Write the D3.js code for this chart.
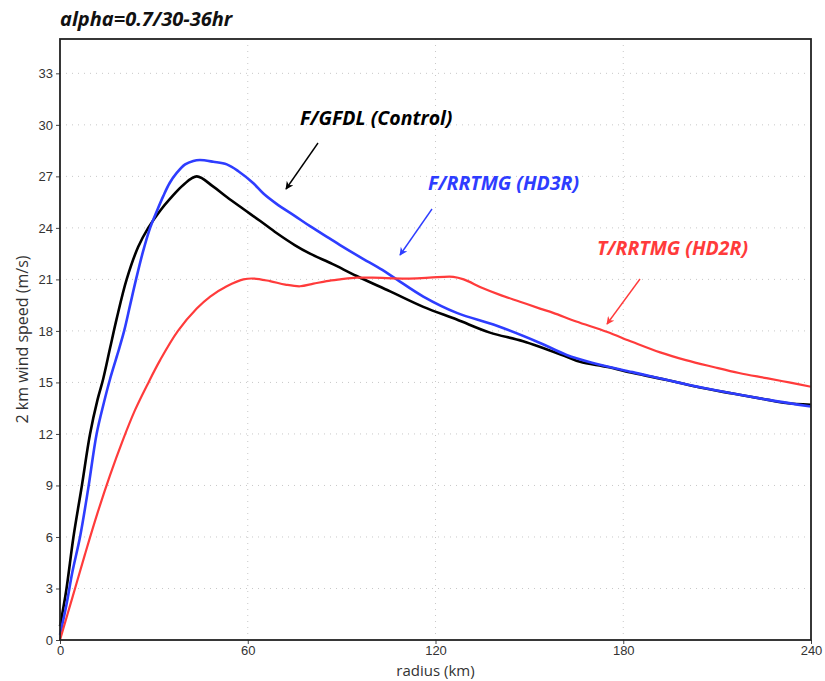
<!DOCTYPE html>
<html>
<head>
<meta charset="utf-8">
<script src="https://cdn.jsdelivr.net/npm/d3@7"></script>
<style>
  body { margin: 0; background: #fff; }
  svg { display: block; }
</style>
</head>
<body>
<svg id="chart" width="825" height="681"></svg>
<script>
// values
const gfdlR = [0,2,4.3,7,9.6,12,13.8,16,18.1,21.3,25,28.2,32,35.2,39.4,43.7,49,53.3,58.6,64,69.2,75,79.9,87,94.8,105.5,116.1,126.8,137.4,148,161.9,166.2,175,183.2,195,204.5,215,225.8,232,240];
const gfdlV = [0.8,2.9,6.0,9.0,12.0,14.0,15.2,17.0,18.7,21.0,22.9,24.0,25.0,25.7,26.5,27.0,26.4,25.8,25.1,24.4,23.7,23.0,22.5,21.9,21.2,20.3,19.4,18.66,17.9,17.4,16.5,16.2,15.9,15.55,15.1,14.7,14.35,14.0,13.8,13.7];

const hd3rR = [0,2,4,6.4,9,11.7,14,16,18.3,20.5,22.4,24.3,26.5,28.8,31,33,35,37.3,40,42.6,44.7,49,53.3,57,61.8,65,69.2,75,79.9,86,89.5,95.9,103,107.6,116.1,126.8,139.6,153.4,161.9,170,183,205,226,240];
const hd3rV = [0.3,2.0,4.0,6.0,8.8,12.0,13.8,15.2,16.6,18.0,19.5,21.0,22.6,24.0,25.0,25.85,26.6,27.2,27.7,27.9,27.95,27.85,27.7,27.3,26.6,26.0,25.4,24.7,24.1,23.4,23.0,22.3,21.55,21.0,20.0,19.05,18.3,17.3,16.6,16.15,15.6,14.7,14.0,13.6];

const hd2rR = [0,4,8,12,16,20,24,28,32,37.7,43.7,48,53.3,58.6,62,67.1,72,76.7,81,85.2,89.5,94.8,100,110.8,118,125.7,129,135,140.6,147,153.4,157.6,165,174.7,183,191.8,200,208.8,217,225.8,233,240];
const hd2rV = [0,2.5,5.0,7.4,9.6,11.6,13.4,14.9,16.3,18.0,19.3,20.0,20.6,21.0,21.05,20.9,20.7,20.6,20.75,20.9,21.0,21.1,21.1,21.05,21.1,21.15,21.0,20.5,20.1,19.7,19.3,19.05,18.55,17.95,17.35,16.75,16.3,15.9,15.55,15.25,15.0,14.75];

const xTicks = [0, 60, 120, 180, 240];
const yTicks = [0, 3, 6, 9, 12, 15, 18, 21, 24, 27, 30, 33];

const series = [
  { name: "F/GFDL (Control)", r: gfdlR, v: gfdlV, color: "#000000", width: 2.6 },
  { name: "F/RRTMG (HD3R)", r: hd3rR, v: hd3rV, color: "#2e3dff", width: 2.6 },
  { name: "T/RRTMG (HD2R)", r: hd2rR, v: hd2rV, color: "#ff3b3b", width: 2.2 }
];

const margin = { left: 60, top: 39, right: 14, bottom: 41 };
const width = 825, height = 681;

const svg = d3.select("#chart");

const x = d3.scaleLinear().domain([0, 240]).range([margin.left, width - margin.right]);
const y = d3.scaleLinear().domain([0, 35]).range([height - margin.bottom, margin.top]);

// grid
svg.append("g")
  .selectAll("line")
  .data(yTicks.filter(d => d > 0))
  .enter()
  .append("line")
  .attr("x1", x(0)).attr("x2", x(240))
  .attr("y1", d => y(d)).attr("y2", d => y(d))
  .style("stroke", "#c8c8c8")
  .style("stroke-width", 1)
  .style("stroke-dasharray", "1,5");

svg.append("g")
  .selectAll("line")
  .data(xTicks.filter(d => d > 0 && d < 240))
  .enter()
  .append("line")
  .attr("x1", d => x(d)).attr("x2", d => x(d))
  .attr("y1", y(0)).attr("y2", y(35))
  .style("stroke", "#c8c8c8")
  .style("stroke-width", 1)
  .style("stroke-dasharray", "1,5");

// axes
const xAxis = svg.append("g")
  .attr("transform", "translate(0," + y(0) + ")")
  .call(d3.axisBottom(x).tickValues(xTicks).tickSize(4).tickPadding(2));
const yAxis = svg.append("g")
  .attr("transform", "translate(" + x(0) + ",0)")
  .call(d3.axisLeft(y).tickValues(yTicks).tickSize(4).tickPadding(3));

[xAxis, yAxis].forEach(function(a) {
  a.select(".domain").remove();
  a.selectAll("text")
    .style("font-family", "'Liberation Sans', Arial, sans-serif")
    .style("font-size", "13px")
    .style("fill", "#333");
  a.selectAll("line").style("stroke", "#444");
});

// curves
const line = d3.line()
  .x(d => x(d[0]))
  .y(d => y(d[1]))
  .curve(d3.curveCatmullRom.alpha(0.5));

svg.append("g")
  .selectAll("path")
  .data(series)
  .enter()
  .append("path")
  .attr("d", function(d) {
    return line(d.r.map((r, i) => [r, d.v[i]]));
  })
  .style("fill", "none")
  .style("stroke", d => d.color)
  .style("stroke-width", d => d.width)
  .style("stroke-linejoin", "round");

// frame
svg.append("rect")
  .attr("x", x(0)).attr("y", y(35))
  .attr("width", x(240) - x(0))
  .attr("height", y(0) - y(35))
  .style("fill", "none")
  .style("stroke", "#222")
  .style("stroke-width", 1.8);

// annotations
const notes = [
  { text: series[0].name, color: series[0].color, tx: 300, ty: 125, ax1: 318, ay1: 143, ax2: 286, ay2: 189 },
  { text: series[1].name, color: series[1].color, tx: 428, ty: 190, ax1: 432, ay1: 209, ax2: 400, ay2: 255 },
  { text: series[2].name, color: series[2].color, tx: 597, ty: 255, ax1: 640, ay1: 279, ax2: 607, ay2: 324 }
];

const defs = svg.append("defs");
notes.forEach(function(n, i) {
  defs.append("marker")
    .attr("id", "head" + i)
    .attr("viewBox", "0 0 10 10")
    .attr("refX", 9).attr("refY", 5)
    .attr("markerWidth", 8).attr("markerHeight", 8)
    .attr("markerUnits", "userSpaceOnUse")
    .attr("orient", "auto")
    .append("path")
    .attr("d", "M0,0 L10,5 L0,10 L3,5 Z")
    .style("fill", n.color);

  svg.append("text")
    .attr("x", n.tx).attr("y", n.ty)
    .text(n.text)
    .style("font-family", "'Open Sans', sans-serif")
    .style("font-weight", "bold")
    .style("font-style", "italic")
    .style("font-size", "19.5px")
    .style("fill", n.color);

  svg.append("line")
    .attr("x1", n.ax1).attr("y1", n.ay1)
    .attr("x2", n.ax2).attr("y2", n.ay2)
    .style("stroke", n.color)
    .style("stroke-width", 1.4)
    .attr("marker-end", "url(#head" + i + ")");
});

// title and axis labels
svg.append("text")
  .attr("x", 60).attr("y", 26)
  .text("alpha=0.7/30-36hr")
  .style("font-family", "'Open Sans', sans-serif")
  .style("font-weight", "bold")
  .style("font-style", "italic")
  .style("font-size", "20px")
  .style("fill", "#111");

svg.append("text")
  .attr("x", (x(0) + x(240)) / 2).attr("y", 676)
  .attr("text-anchor", "middle")
  .text("radius (km)")
  .style("font-family", "'Open Sans', sans-serif")
  .style("font-size", "15px")
  .style("fill", "#333");

svg.append("text")
  .attr("transform", "translate(28," + ((y(0) + y(35)) / 2) + ") rotate(-90)")
  .attr("text-anchor", "middle")
  .text("2 km wind speed (m/s)")
  .style("font-family", "'Open Sans', sans-serif")
  .style("font-size", "16px")
  .style("fill", "#333");
</script>
</body>
</html>
